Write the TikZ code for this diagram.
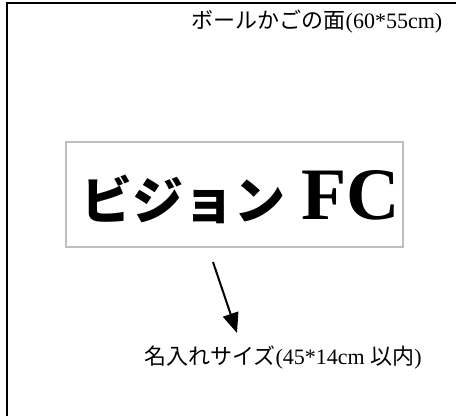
\documentclass[tikz,border=0pt]{standalone}
\usepackage{fontspec}
\setmainfont{Liberation Serif}
\newfontfamily\jp{Noto Sans CJK JP}
\usetikzlibrary{arrows.meta}
\begin{document}
\begin{tikzpicture}[x=1pt,y=-1pt]
        \useasboundingbox (0,0) rectangle (456,416);
        \draw[line width=2pt] (6.5,416) -- (6.5,2.5) -- (456,2.5);
        \node[inner sep=0] (face) at (317,22) {\fontsize{22}{24}\selectfont{\jp ボールかごの面}(60*55cm)};
        \node[draw=black!25, line width=1.5pt, minimum width=337pt, minimum height=105pt, inner sep=0] (plate) at (234.5,194.5) {};
        \node[inner sep=0] (team) at (241,197) {\bfseries{\fontsize{51}{54}\selectfont\jp ビジョン}\hspace{16pt}{\fontsize{74}{78}\selectfont FC}};
        \coordinate (tail) at (213,262);
        \coordinate (tip) at (237,333);
        \draw[-{Triangle[length=20pt,width=16pt]}, line width=2pt] (tail) -- (tip);
        \node[inner sep=0] (size) at (283,357) {\fontsize{22}{24}\selectfont{\jp 名入れサイズ}(45*14cm {\jp 以内})};
    \end{tikzpicture}
\end{document}
